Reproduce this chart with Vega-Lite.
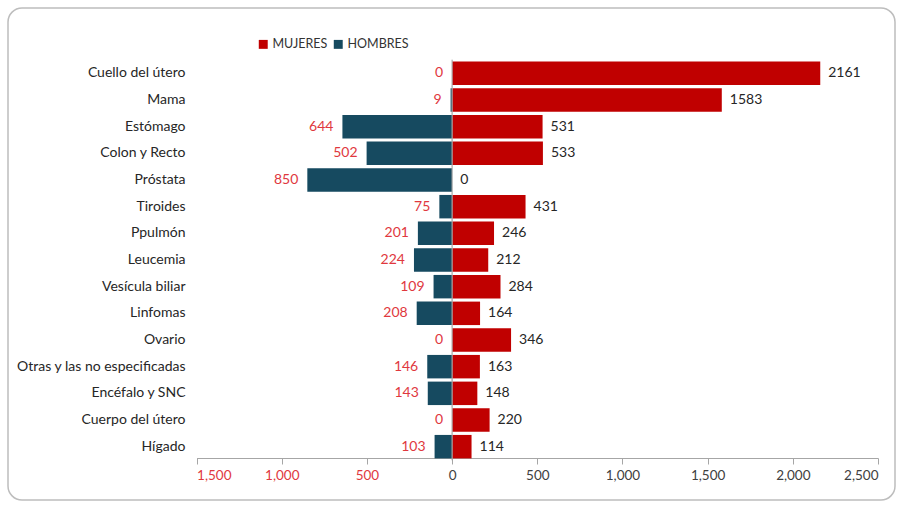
{
  "$schema": "https://vega.github.io/schema/vega-lite/v6.json",
  "width": 887,
  "height": 492,
  "padding": {"left": 8, "top": 8, "right": 8, "bottom": 9},
  "autosize": {"type": "pad"},
  "background": "white",
  "config": {
    "font": "Lato",
    "view": {"stroke": "#BDBDBD", "strokeWidth": 1.5, "cornerRadius": 14}
  },
  "data": {
    "values": [
      {"causa": "Cuello del útero", "sexo": "MUJERES", "casos": 2161},
      {"causa": "Cuello del útero", "sexo": "HOMBRES", "casos": 0},
      {"causa": "Mama", "sexo": "MUJERES", "casos": 1583},
      {"causa": "Mama", "sexo": "HOMBRES", "casos": 9},
      {"causa": "Estómago", "sexo": "MUJERES", "casos": 531},
      {"causa": "Estómago", "sexo": "HOMBRES", "casos": 644},
      {"causa": "Colon y Recto", "sexo": "MUJERES", "casos": 533},
      {"causa": "Colon y Recto", "sexo": "HOMBRES", "casos": 502},
      {"causa": "Próstata", "sexo": "MUJERES", "casos": 0},
      {"causa": "Próstata", "sexo": "HOMBRES", "casos": 850},
      {"causa": "Tiroides", "sexo": "MUJERES", "casos": 431},
      {"causa": "Tiroides", "sexo": "HOMBRES", "casos": 75},
      {"causa": "Ppulmón", "sexo": "MUJERES", "casos": 246},
      {"causa": "Ppulmón", "sexo": "HOMBRES", "casos": 201},
      {"causa": "Leucemia", "sexo": "MUJERES", "casos": 212},
      {"causa": "Leucemia", "sexo": "HOMBRES", "casos": 224},
      {"causa": "Vesícula biliar", "sexo": "MUJERES", "casos": 284},
      {"causa": "Vesícula biliar", "sexo": "HOMBRES", "casos": 109},
      {"causa": "Linfomas", "sexo": "MUJERES", "casos": 164},
      {"causa": "Linfomas", "sexo": "HOMBRES", "casos": 208},
      {"causa": "Ovario", "sexo": "MUJERES", "casos": 346},
      {"causa": "Ovario", "sexo": "HOMBRES", "casos": 0},
      {"causa": "Otras  y las no especificadas", "sexo": "MUJERES", "casos": 163},
      {"causa": "Otras  y las no especificadas", "sexo": "HOMBRES", "casos": 146},
      {"causa": "Encéfalo y SNC", "sexo": "MUJERES", "casos": 148},
      {"causa": "Encéfalo y SNC", "sexo": "HOMBRES", "casos": 143},
      {"causa": "Cuerpo del útero", "sexo": "MUJERES", "casos": 220},
      {"causa": "Cuerpo del útero", "sexo": "HOMBRES", "casos": 0},
      {"causa": "Hígado", "sexo": "MUJERES", "casos": 114},
      {"causa": "Hígado", "sexo": "HOMBRES", "casos": 103}
    ]
  },
  "transform": [
    {"calculate": "datum.sexo === 'HOMBRES' ? -datum.casos : datum.casos", "as": "pos"}
  ],
  "encoding": {
    "y": {
      "field": "causa",
      "type": "nominal",
      "sort": ["Cuello del útero", "Mama", "Estómago", "Colon y Recto", "Próstata", "Tiroides", "Ppulmón", "Leucemia", "Vesícula biliar", "Linfomas", "Ovario", "Otras  y las no especificadas", "Encéfalo y SNC", "Cuerpo del útero", "Hígado"],
      "scale": {"range": [52, 452], "paddingInner": 0.12, "paddingOuter": 0.06},
      "axis": {
        "title": null,
        "orient": "left",
        "offset": -177,
        "ticks": false,
        "domain": false,
        "labelPadding": 0,
        "labelFontSize": 14,
        "labelColor": "#262626",
        "labelLimit": 300
      }
    }
  },
  "layer": [
    {
      "mark": {"type": "bar"},
      "encoding": {
        "x": {
          "field": "pos",
          "type": "quantitative",
          "scale": {"domain": [-1500, 2500], "range": [188.6, 870], "nice": false},
          "axis": {
            "title": null,
            "orient": "bottom",
            "offset": -42,
            "values": [-1500, -1000, -500, 0, 500, 1000, 1500, 2000, 2500],
            "labelExpr": "format(abs(datum.value), ',')",
            "labelColor": {"condition": {"test": "datum.value < 0", "value": "#E0383E"}, "value": "#404040"},
            "labelFontSize": 13.5,
            "labelPadding": 4,
            "grid": false,
            "domainColor": "#A6A6A6",
            "tickColor": "#A6A6A6",
            "tickSize": 6
          }
        },
        "color": {
          "field": "sexo",
          "type": "nominal",
          "scale": {"domain": ["MUJERES", "HOMBRES"], "range": ["#C00000", "#164A60"]},
          "legend": {
            "title": null,
            "orient": "none",
            "legendX": 249,
            "legendY": 30,
            "direction": "horizontal",
            "symbolType": "square",
            "symbolSize": 80,
            "symbolStrokeWidth": 0,
            "labelFontSize": 12.5,
            "labelColor": "#333333",
            "columnPadding": 4,
            "labelOffset": 3
          }
        }
      }
    },
    {
      "mark": {"type": "tick", "orient": "vertical", "color": "#A6A6A6", "thickness": 1, "size": 27},
      "encoding": {
        "x": {"datum": 0, "type": "quantitative"}
      }
    },
    {
      "transform": [{"filter": "datum.sexo === 'MUJERES'"}],
      "mark": {"type": "text", "align": "left", "baseline": "middle", "dx": 8, "fontSize": 14, "color": "#262626"},
      "encoding": {
        "x": {"field": "pos", "type": "quantitative"},
        "text": {"field": "casos", "type": "quantitative", "format": "d"}
      }
    },
    {
      "transform": [{"filter": "datum.sexo === 'HOMBRES'"}],
      "mark": {"type": "text", "align": "right", "baseline": "middle", "dx": -9, "fontSize": 14, "color": "#E0383E"},
      "encoding": {
        "x": {"field": "pos", "type": "quantitative"},
        "text": {"field": "casos", "type": "quantitative", "format": "d"}
      }
    }
  ]
}
